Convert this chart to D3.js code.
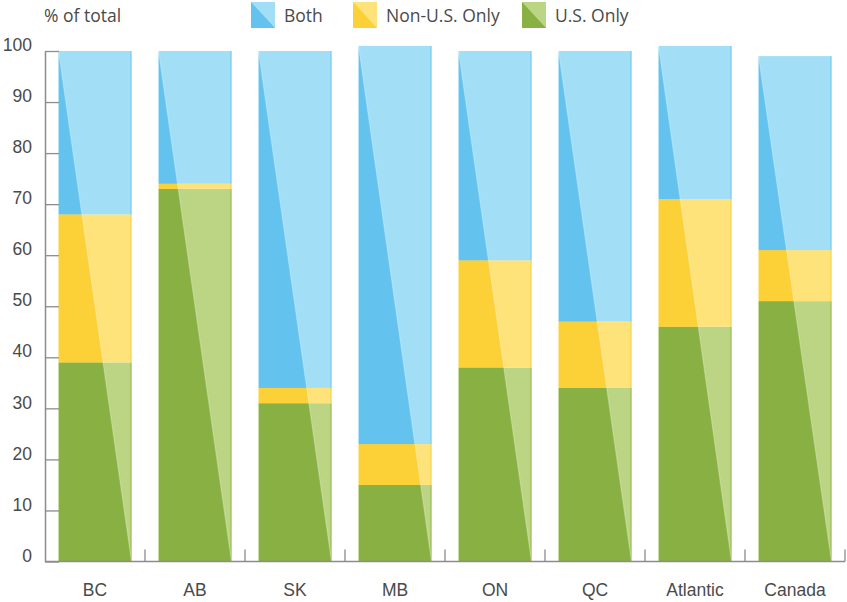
<!DOCTYPE html>
<html>
<head>
<meta charset="utf-8">
<script src="https://cdn.jsdelivr.net/npm/d3@7"></script>
<style>
  html, body { margin: 0; padding: 0; background: #fff; }
  svg { display: block; font-family: "Open Sans", "Noto Sans", sans-serif; }
  .lbl { fill: #4a4a4a; font-size: 17.5px; }
</style>
</head>
<body>
<svg id="chart" width="847" height="602"></svg>
<script>
// Regions along the x axis
const categories = ["BC", "AB", "SK", "MB", "ON", "QC", "Atlantic", "Canada"];
// Share of total (%) for each group, stacked bottom to top
const usOnly    = [39, 73, 31, 15, 38, 34, 46, 51];
const nonUsOnly = [29,  1,  3,  8, 21, 13, 25, 10];
const both      = [32, 26, 66, 78, 41, 53, 30, 38];
const yTicks = [0, 10, 20, 30, 40, 50, 60, 70, 80, 90, 100];

const seriesKeys   = ["us", "nonus", "both"];
const seriesLabels = { us: "U.S. Only", nonus: "Non-U.S. Only", both: "Both" };
const darkColor  = { us: "#89b043", nonus: "#fcd037", both: "#63c2ee" };
const lightColor = { us: "#bcd585", nonus: "#fde37a", both: "#a2dff7" };
const edgeColor  = { us: "#9fbf62", nonus: "#f6d65a", both: "#7fcdf0" };

const rows = categories.map((c, i) => ({
  cat: c, us: usOnly[i], nonus: nonUsOnly[i], both: both[i]
}));

const svg = d3.select("#chart");
const plotLeft = 45, plotRight = 845, plotTop = 51, plotBottom = 561.5;

const x = d3.scaleBand().domain(categories).range([plotLeft, plotRight]).paddingInner(0.27).paddingOuter(0.135);
const y = d3.scaleLinear().domain([0, 100]).range([plotBottom, plotTop]);

const stacked = d3.stack().keys(seriesKeys)(rows);

const defs = svg.append("defs");
const barsG = svg.append("g");

rows.forEach((r, i) => {
  const x0 = x(r.cat), x1 = x0 + x.bandwidth();
  const total = r.us + r.nonus + r.both;
  const yTop = y(total), y0 = y(0);
  const clipId = "tri" + i;
  defs.append("clipPath").attr("id", clipId)
    .append("path")
    .attr("d", `M${x0},${yTop}L${x1},${y0}L${x0},${y0}Z`);

  const g = barsG.append("g");
  stacked.forEach(s => {
    const d = s[i];
    const ya = y(d[1]), yb = y(d[0]);
    // light full segment
    g.append("rect").attr("x", x0).attr("y", ya).attr("width", x1 - x0).attr("height", yb - ya)
      .attr("fill", lightColor[s.key]);
    // darker right edge
    g.append("rect").attr("x", x1 - 1.2).attr("y", ya).attr("width", 1.2).attr("height", yb - ya)
      .attr("fill", edgeColor[s.key]);
  });
  const gd = g.append("g").attr("clip-path", `url(#${clipId})`);
  stacked.forEach(s => {
    const d = s[i];
    const ya = y(d[1]), yb = y(d[0]);
    gd.append("rect").attr("x", x0).attr("y", ya).attr("width", x1 - x0).attr("height", yb - ya)
      .attr("fill", darkColor[s.key]);
  });
  // faint highlight along the diagonal
  g.append("line").attr("x1", x0).attr("y1", yTop).attr("x2", x1).attr("y2", y0)
    .attr("stroke", "#fff").attr("stroke-opacity", 0.25).attr("stroke-width", 1.2);
});

// Y axis with inward ticks
const yAxis = d3.axisLeft(y).tickValues(yTicks).tickSizeInner(-14).tickSizeOuter(0).tickPadding(13);
const yG = svg.append("g").attr("transform", `translate(${plotLeft},0)`).call(yAxis);
yG.select(".domain").attr("stroke", "#8c8c8c").attr("stroke-width", 1.5);
yG.selectAll(".tick line").attr("stroke", "#8c8c8c").attr("stroke-width", 1.3);
yG.selectAll(".tick text").attr("class", "lbl").attr("fill", null).attr("font-size", null)
  .attr("font-family", null).attr("dy", "-0.02em");

// X axis: baseline, separator ticks between groups, and labels
const xG = svg.append("g");
xG.append("line").attr("x1", plotLeft).attr("x2", plotRight).attr("y1", plotBottom).attr("y2", plotBottom)
  .attr("stroke", "#8c8c8c").attr("stroke-width", 1.5);
const step = x.step();
categories.forEach((c, i) => {
  const bx = x(c) - x.paddingOuter() * step + step; // right edge of each band
  xG.append("line").attr("x1", bx).attr("x2", bx).attr("y1", plotBottom).attr("y2", plotBottom - 12)
    .attr("stroke", "#8c8c8c").attr("stroke-width", 1.3);
});
const xAxis = d3.axisBottom(x).tickSize(0).tickPadding(0);
const xL = svg.append("g").attr("transform", `translate(0,${plotBottom})`).call(xAxis);
xL.select(".domain").remove();
xL.selectAll(".tick text").attr("class", "lbl").attr("fill", null).attr("font-size", null)
  .attr("font-family", null).attr("dy", null).attr("y", 34);

// Axis title
svg.append("text").attr("class", "lbl").attr("x", 44).attr("y", 22).text("% of total");

// Legend
const legendItems = [
  { key: "both", x: 251 },
  { key: "nonus", x: 353 },
  { key: "us", x: 522 }
];
const lg = svg.append("g");
legendItems.forEach(it => {
  const sx = it.x, sy = 2, w = 24, h = 26;
  lg.append("rect").attr("x", sx).attr("y", sy).attr("width", w).attr("height", h).attr("fill", lightColor[it.key]);
  lg.append("path").attr("d", `M${sx},${sy}L${sx + w},${sy + h}L${sx},${sy + h}Z`).attr("fill", darkColor[it.key]);
  lg.append("text").attr("class", "lbl").attr("x", sx + w + 9).attr("y", 22).text(seriesLabels[it.key]);
});
</script>
</body>
</html>
